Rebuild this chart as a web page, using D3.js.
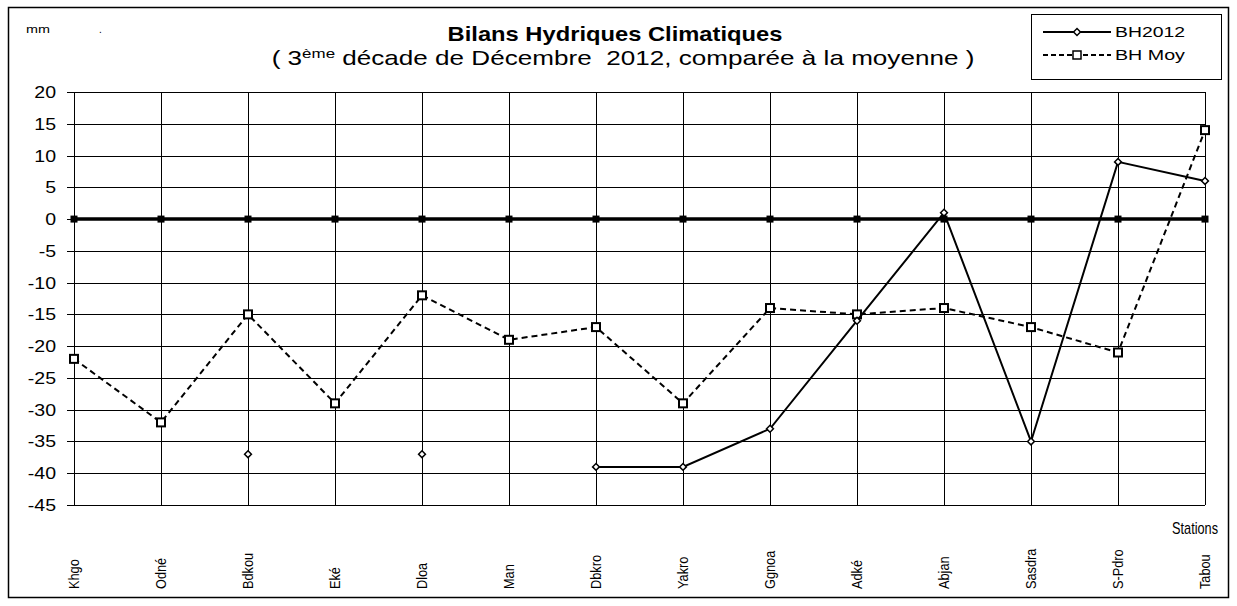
<!DOCTYPE html>
<html>
<head>
<meta charset="utf-8">
<script src="https://cdn.jsdelivr.net/npm/d3@7"></script>
<style>
  body { margin: 0; background: #fff; }
  text { font-family: "Liberation Sans", Arial, sans-serif; fill: #000; }
</style>
</head>
<body>
<div id="chart"></div>
<script>
/* DATA */
var stations = ["Khgo", "Odné", "Bdkou", "Eké", "Dloa", "Man", "Dbkro", "Yakro", "Ggnoa", "Adké", "Abjan", "Sasdra", "S-Pdro", "Tabou"];
var bh2012 = [null, null, -37, null, -37, null, -39, -39, -33, -16, 1, -35, 9, 6];
var bhMoy = [-22, -32, -15, -29, -12, -19, -17, -29, -14, -15, -14, -17, -21, 14];
var zeroLine = [0, 0, 0, 0, 0, 0, 0, 0, 0, 0, 0, 0, 0, 0];
var yTicks = [20, 15, 10, 5, 0, -5, -10, -15, -20, -25, -30, -35, -40, -45];

/* SETUP */
var width = 1237;
var height = 606;

var svg = d3.select("#chart")
  .append("svg")
  .attr("width", width)
  .attr("height", height);

// the source picture is stretched sideways, so text gets scaled along x
function place(sel, tx, ty, k, rot) {
  sel.attr("x", 0).attr("y", 0)
    .attr("transform", "translate(" + tx + "," + ty + ")" + (rot ? " rotate(" + rot + ")" : "") + " scale(" + k + ",1)");
}
function fitTo(sel, tx, ty, target) {
  var w = sel.node().getComputedTextLength();
  place(sel, tx, ty, target / w);
}

// outer frame
svg.append("rect")
  .attr("x", 8.5).attr("y", 7.5)
  .attr("width", 1220).attr("height", 590)
  .attr("fill", "none")
  .attr("stroke", "#000")
  .attr("stroke-width", 1.5);

var x = d3.scalePoint()
  .domain(stations)
  .range([74, 1205]);

var y = d3.scaleLinear()
  .domain([-45, 20])
  .range([505, 92]);

var plot = svg.append("g");

// horizontal grid
plot.selectAll(".hgrid")
  .data(yTicks)
  .enter()
  .append("line")
  .attr("x1", 67).attr("x2", 1205)
  .attr("y1", function(d) { return Math.round(y(d)) + 0.5; })
  .attr("y2", function(d) { return Math.round(y(d)) + 0.5; })
  .attr("stroke", "#000")
  .attr("stroke-width", 1);

// vertical grid
plot.selectAll(".vgrid")
  .data(stations)
  .enter()
  .append("line")
  .attr("x1", function(d) { return Math.round(x(d)) + 0.5; })
  .attr("x2", function(d) { return Math.round(x(d)) + 0.5; })
  .attr("y1", y(20)).attr("y2", y(-45))
  .attr("stroke", "#000")
  .attr("stroke-width", 1);

// y labels
plot.selectAll(".ylab")
  .data(yTicks)
  .enter()
  .append("text")
  .attr("text-anchor", "end")
  .attr("font-size", 17)
  .text(function(d) { return d; })
  .each(function(d) { place(d3.select(this), 56, y(d) + 6, 1.15); });

// x labels (rotated)
plot.selectAll(".xlab")
  .data(stations)
  .enter()
  .append("text")
  .attr("text-anchor", "start")
  .attr("font-size", 15)
  .text(function(d) { return d; })
  .each(function(d) { place(d3.select(this), x(d) + 5, 589, 0.85, -90); });

var line = function(vals) {
  return d3.line()
    .defined(function(d) { return d != null; })
    .x(function(d, i) { return x(stations[i]); })
    .y(function(d) { return y(d); })(vals);
};

// zero line series
plot.append("path")
  .attr("d", line(zeroLine))
  .attr("fill", "none")
  .attr("stroke", "#000")
  .attr("stroke-width", 3.5);

plot.selectAll(".zmark")
  .data(zeroLine)
  .enter()
  .append("rect")
  .attr("x", function(d, i) { return x(stations[i]) - 3.5; })
  .attr("y", function(d) { return y(d) - 3.5; })
  .attr("width", 7).attr("height", 7)
  .attr("fill", "#000");

// BH Moy (dashed, squares)
plot.append("path")
  .attr("d", line(bhMoy))
  .attr("fill", "none")
  .attr("stroke", "#000")
  .attr("stroke-width", 2)
  .attr("stroke-dasharray", "6,4");

plot.selectAll(".mmark")
  .data(bhMoy)
  .enter()
  .append("rect")
  .attr("x", function(d, i) { return x(stations[i]) - 4; })
  .attr("y", function(d) { return y(d) - 4; })
  .attr("width", 8).attr("height", 8)
  .attr("fill", "#fff")
  .attr("stroke", "#000")
  .attr("stroke-width", 2);

// BH2012 (solid, diamonds)
plot.append("path")
  .attr("d", line(bh2012))
  .attr("fill", "none")
  .attr("stroke", "#000")
  .attr("stroke-width", 2);

var diamond = d3.symbol().type(d3.symbolDiamond2).size(30);

plot.selectAll(".dmark")
  .data(bh2012.map(function(v, i) { return {v: v, i: i}; }).filter(function(d) { return d.v != null; }))
  .enter()
  .append("path")
  .attr("d", diamond)
  .attr("transform", function(d) { return "translate(" + x(stations[d.i]) + "," + y(d.v) + ")"; })
  .attr("fill", "#fff")
  .attr("stroke", "#000")
  .attr("stroke-width", 1.5);

// titles
var title = svg.append("text")
  .attr("text-anchor", "middle")
  .attr("font-size", 20)
  .attr("font-weight", "bold")
  .text("Bilans Hydriques Climatiques");
fitTo(title, 615, 41, 335);

var sub = svg.append("text")
  .attr("text-anchor", "middle")
  .attr("font-size", 20);
sub.append("tspan").text("( 3");
sub.append("tspan").attr("font-size", 13).attr("dy", -7).text("ème");
sub.append("tspan").attr("dy", 7).attr("xml:space", "preserve").text(" décade de Décembre  2012, comparée à la moyenne )");
fitTo(sub, 623, 65, 703);

var mm = svg.append("text")
  .attr("font-size", 11)
  .text("mm");
fitTo(mm, 26, 33, 24);

svg.append("text")
  .attr("x", 99).attr("y", 33)
  .attr("font-size", 10)
  .text(".");

var st = svg.append("text")
  .attr("text-anchor", "end")
  .attr("font-size", 16)
  .text("Stations");
fitTo(st, 1218, 534, 46);

// legend
var leg = svg.append("g");
leg.append("rect")
  .attr("x", 1031.5).attr("y", 14.5)
  .attr("width", 190).attr("height", 65)
  .attr("fill", "#fff")
  .attr("stroke", "#000")
  .attr("stroke-width", 1);

leg.append("line")
  .attr("x1", 1043).attr("x2", 1111)
  .attr("y1", 32).attr("y2", 32)
  .attr("stroke", "#000").attr("stroke-width", 2);
leg.append("path")
  .attr("d", diamond)
  .attr("transform", "translate(1077,32)")
  .attr("fill", "#fff").attr("stroke", "#000").attr("stroke-width", 1.5);
var l1 = leg.append("text")
  .attr("font-size", 15)
  .text("BH2012");
fitTo(l1, 1115, 37, 70);

leg.append("line")
  .attr("x1", 1043).attr("x2", 1111)
  .attr("y1", 55).attr("y2", 55)
  .attr("stroke", "#000").attr("stroke-width", 2)
  .attr("stroke-dasharray", "5,3");
leg.append("rect")
  .attr("x", 1073).attr("y", 51)
  .attr("width", 8).attr("height", 8)
  .attr("fill", "#fff").attr("stroke", "#000").attr("stroke-width", 1.5);
var l2 = leg.append("text")
  .attr("font-size", 15)
  .text("BH Moy");
fitTo(l2, 1115, 60, 70);
</script>
</body>
</html>
